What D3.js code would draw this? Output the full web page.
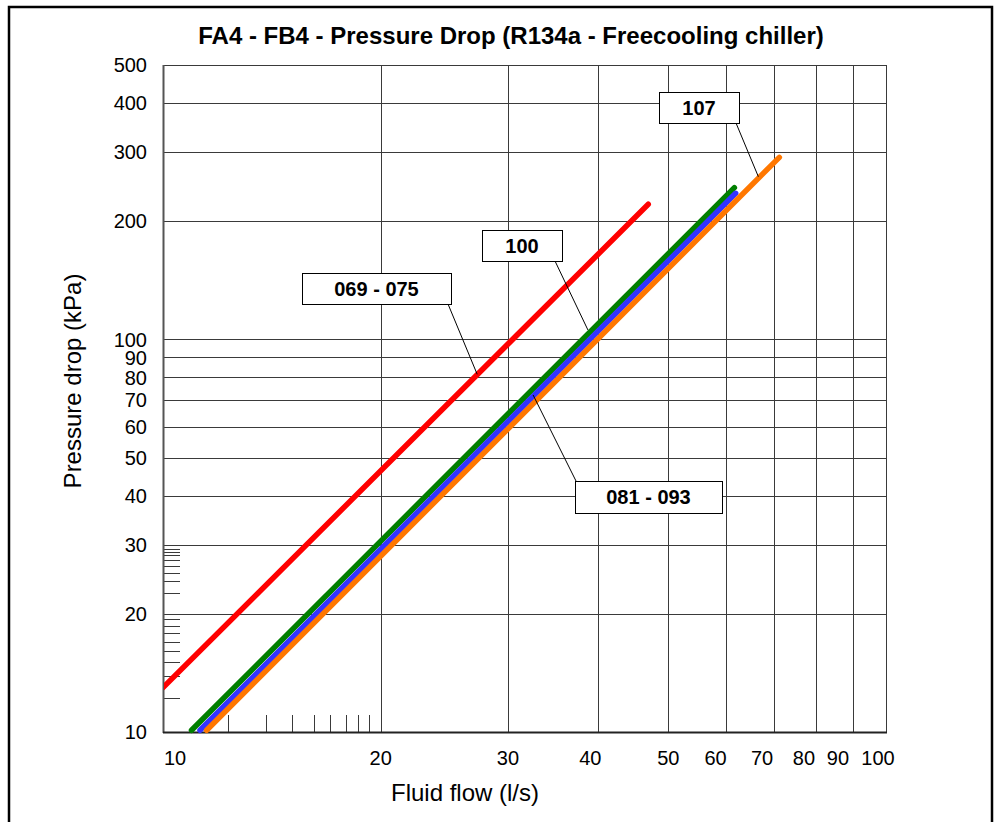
<!DOCTYPE html>
<html>
<head>
<meta charset="utf-8">
<script src="https://cdn.jsdelivr.net/npm/d3@7"></script>
<style>
  body { margin: 0; background: #fff; }
  text { font-family: Arial, "Liberation Sans", sans-serif; fill: #000; }
</style>
</head>
<body>
<div id="chart"></div>
<script>
// ---- data ----
var flowTicks = [10, 20, 30, 40, 50, 60, 70, 80, 90, 100];
var pressureTicks = [10, 20, 30, 40, 50, 60, 70, 80, 90, 100, 200, 300, 400, 500];
var flowMinorTicks = [12.3, 13.9, 15.1, 16.2, 17.0, 17.9, 18.6, 19.3];
var pressureMinorTicks = [12.2, 13.9, 15.1, 16.1, 17.0, 17.9, 18.6, 19.4,
                          22.6, 24.3, 25.4, 26.4, 27.4, 28.2, 28.8, 29.3];

var seriesNames = ["069 - 075", "100", "081 - 093", "107"];
var flow069 = [10.0, 46.9],  drop069 = [12.97, 220.9];
var flow100 = [10.95, 61.7], drop100 = [10.1, 243.5];
var flow081 = [11.25, 61.95], drop081 = [10.1, 235.6];
var flow107 = [11.49, 71.2], drop107 = [10.1, 290.9];

// where each label's leader line touches its curve
var anchorFlow = [27.2, 38.7, 32.5, 66.6];
var anchorDrop = [81.5, 105.7, 72.2, 259.7];

var colors = ["#ff0000", "#007f00", "#3333ff", "#ff7700"];

// ---- layout ----
var W = 998, H = 822;
var plot = {left: 163, right: 886, top: 65, bottom: 732};
var labelBoxes = [
  {x: 302, y: 273, w: 149, h: 31, lx: 448, ly: 304},
  {x: 482, y: 230, w: 80, h: 31, lx: 555, ly: 261},
  {x: 575, y: 481, w: 147, h: 32, lx: 576, ly: 481},
  {x: 659, y: 92, w: 80, h: 31, lx: 736, ly: 123}
];
var flowLabelDx = [12, 0, 0, -8, 0, -10, -12, -12, -15, -8];

var series = seriesNames.map(function(name, i) {
  var f = [flow069, flow100, flow081, flow107][i];
  var p = [drop069, drop100, drop081, drop107][i];
  return {name: name, color: colors[i],
          points: f.map(function(v, j) { return [v, p[j]]; })};
});

var x = d3.scaleLog().domain([10, 100]).range([plot.left, plot.right]);
var y = d3.scaleLog().domain([10, 500]).range([plot.bottom, plot.top]);

var svg = d3.select("#chart").append("svg")
    .attr("width", W)
    .attr("height", H);

svg.append("rect")
    .attr("x", 9).attr("y", 7)
    .attr("width", 983).attr("height", 830)
    .attr("fill", "#fff")
    .attr("stroke", "#000")
    .attr("stroke-width", 2.5);

svg.append("text")
    .attr("x", 511).attr("y", 44)
    .attr("text-anchor", "middle")
    .style("font-size", "24px")
    .style("font-weight", "bold")
    .text("FA4 - FB4 - Pressure Drop (R134a - Freecooling chiller)");

// gridlines
var grid = svg.append("g").attr("stroke", "#3a3a3a").attr("stroke-width", 1);
grid.selectAll(".hg").data(pressureTicks).enter().append("line")
    .attr("x1", plot.left).attr("x2", plot.right)
    .attr("y1", function(d) { return Math.round(y(d)) + 0.5; })
    .attr("y2", function(d) { return Math.round(y(d)) + 0.5; });
grid.selectAll(".vg").data(flowTicks.slice(1)).enter().append("line")
    .attr("y1", plot.top).attr("y2", plot.bottom)
    .attr("x1", function(d) { return Math.round(x(d)) + 0.5; })
    .attr("x2", function(d) { return Math.round(x(d)) + 0.5; });

// odd minor ticks
grid.selectAll(".mx").data(flowMinorTicks).enter().append("line")
    .attr("y1", plot.bottom).attr("y2", plot.bottom - 17)
    .attr("x1", function(d) { return Math.round(x(d)) + 0.5; })
    .attr("x2", function(d) { return Math.round(x(d)) + 0.5; });
grid.selectAll(".my").data(pressureMinorTicks).enter().append("line")
    .attr("x1", plot.left).attr("x2", plot.left + 17)
    .attr("y1", function(d) { return Math.round(y(d)) + 0.5; })
    .attr("y2", function(d) { return Math.round(y(d)) + 0.5; });

// plot frame
svg.append("rect")
    .attr("x", plot.left + 0.5).attr("y", plot.top + 0.5)
    .attr("width", plot.right - plot.left).attr("height", plot.bottom - plot.top)
    .attr("fill", "none").attr("stroke", "#3a3a3a").attr("stroke-width", 1);
svg.append("line")
    .attr("x1", plot.left + 0.5).attr("x2", plot.left + 0.5)
    .attr("y1", plot.top).attr("y2", plot.bottom + 1)
    .attr("stroke", "#555").attr("stroke-width", 2);
svg.append("line")
    .attr("x1", plot.left).attr("x2", plot.right + 1)
    .attr("y1", plot.bottom + 0.5).attr("y2", plot.bottom + 0.5)
    .attr("stroke", "#222").attr("stroke-width", 2);

// tick labels
svg.selectAll(".yl").data(pressureTicks).enter().append("text")
    .attr("x", 147)
    .attr("y", function(d) { return y(d); })
    .attr("dy", "0.36em")
    .attr("text-anchor", "end")
    .style("font-size", "20px")
    .text(function(d) { return d; });
svg.selectAll(".xl").data(flowTicks).enter().append("text")
    .attr("x", function(d, i) { return x(d) + flowLabelDx[i]; })
    .attr("y", 765)
    .attr("text-anchor", "middle")
    .style("font-size", "20px")
    .text(function(d) { return d; });

// axis titles
svg.append("text")
    .attr("x", 465).attr("y", 801)
    .attr("text-anchor", "middle")
    .style("font-size", "24px")
    .text("Fluid flow (l/s)");
svg.append("text")
    .attr("transform", "translate(81,381) rotate(-90)")
    .attr("text-anchor", "middle")
    .style("font-size", "24px")
    .text("Pressure drop (kPa)");

// curves
svg.append("clipPath").attr("id", "clip")
  .append("rect")
    .attr("x", plot.left + 1).attr("y", plot.top)
    .attr("width", plot.right - plot.left).attr("height", plot.bottom - plot.top + 6);

var line = d3.line()
    .x(function(d) { return x(d[0]); })
    .y(function(d) { return y(d[1]); });

svg.append("g").attr("clip-path", "url(#clip)")
  .selectAll("path").data(series).enter().append("path")
    .attr("d", function(d) { return line(d.points); })
    .attr("fill", "none")
    .attr("stroke", function(d) { return d.color; })
    .attr("stroke-width", 5.5)
    .attr("stroke-linecap", "round");

// labels with leader lines
var lab = svg.selectAll(".lab").data(series).enter().append("g");
lab.append("line")
    .attr("x1", function(d, i) { return labelBoxes[i].lx; })
    .attr("y1", function(d, i) { return labelBoxes[i].ly; })
    .attr("x2", function(d, i) { return x(anchorFlow[i]); })
    .attr("y2", function(d, i) { return y(anchorDrop[i]); })
    .attr("stroke", "#000").attr("stroke-width", 1);
lab.append("rect")
    .attr("x", function(d, i) { return labelBoxes[i].x + 0.5; })
    .attr("y", function(d, i) { return labelBoxes[i].y + 0.5; })
    .attr("width", function(d, i) { return labelBoxes[i].w; })
    .attr("height", function(d, i) { return labelBoxes[i].h; })
    .attr("fill", "#fff").attr("stroke", "#000").attr("stroke-width", 1);
lab.append("text")
    .attr("x", function(d, i) { return labelBoxes[i].x + labelBoxes[i].w / 2; })
    .attr("y", function(d, i) { return labelBoxes[i].y + labelBoxes[i].h / 2; })
    .attr("dy", "0.36em")
    .attr("text-anchor", "middle")
    .style("font-size", "20px")
    .style("font-weight", "bold")
    .text(function(d) { return d.name; });
</script>
</body>
</html>
